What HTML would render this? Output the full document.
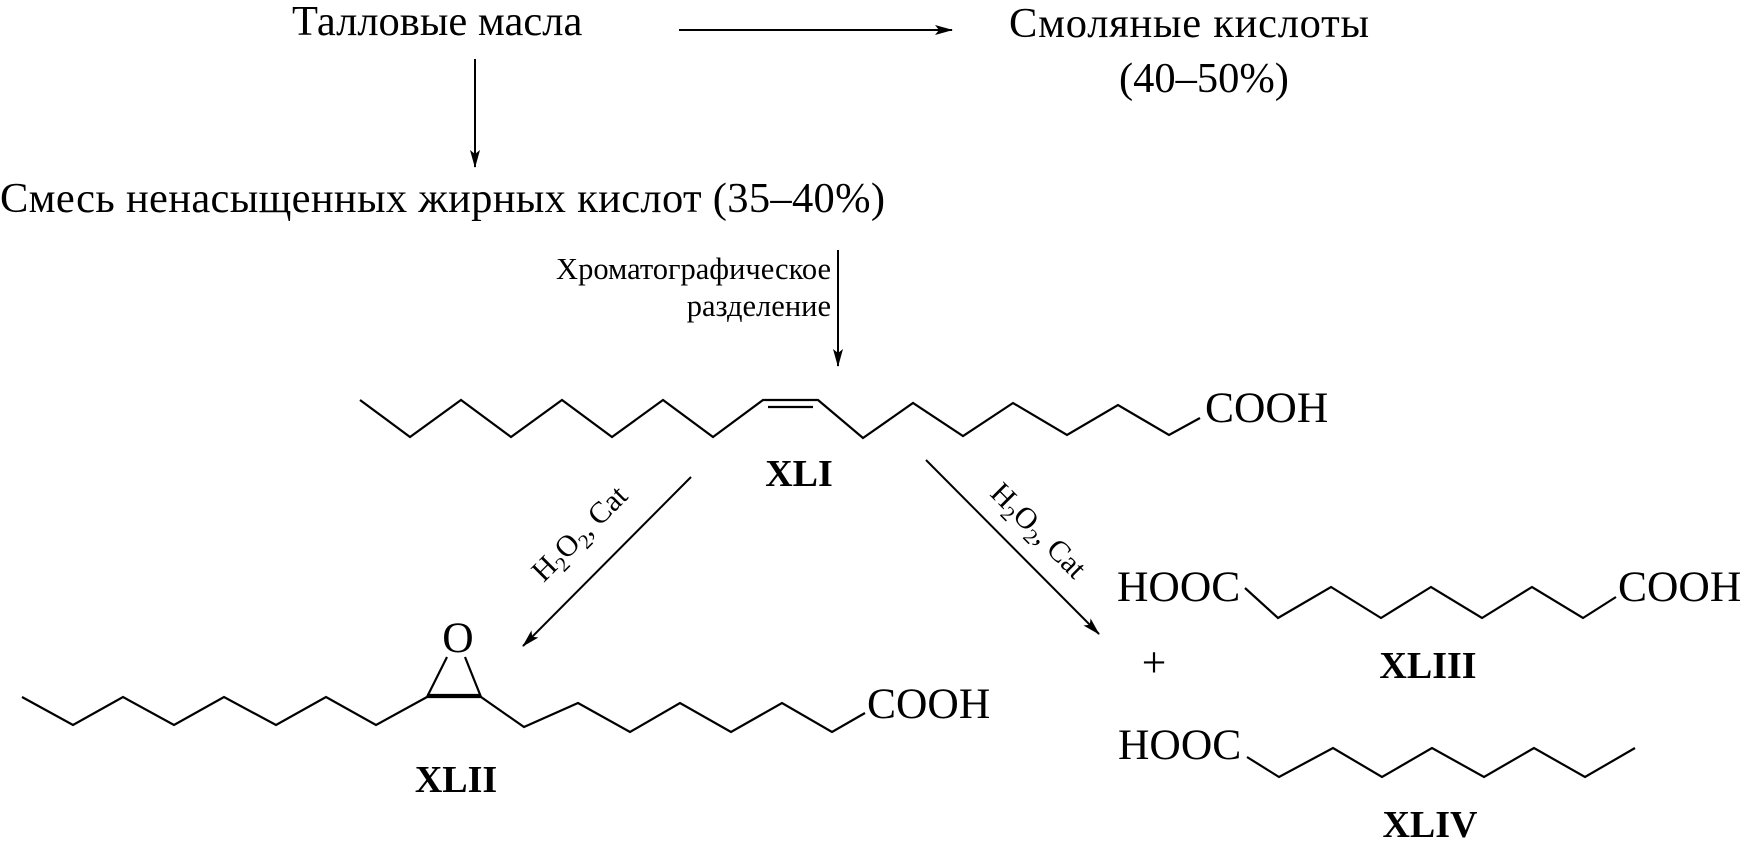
<!DOCTYPE html>
<html><head><meta charset="utf-8"><style>
html,body{margin:0;padding:0;background:#fff;}
svg{display:block;}
text{font-family:"Liberation Serif",serif;fill:#000;}
</style></head><body>
<svg width="1745" height="849" viewBox="0 0 1745 849" xmlns="http://www.w3.org/2000/svg">
<defs>
<marker id="ah" markerWidth="18" markerHeight="10" refX="17" refY="5" orient="auto" markerUnits="userSpaceOnUse">
<path d="M0,0 L18,5 L0,10 L4,5 Z" fill="#000"/>
</marker>
</defs>
<g font-size="42.5">
<text x="292" y="35">Талловые масла</text>
<text x="1009" y="37" textLength="360">Смоляные кислоты</text>
<text x="1119" y="92">(40–50%)</text>
<text x="0" y="212" textLength="885">Смесь ненасыщенных жирных кислот (35–40%)</text>
</g>
<g stroke="#000" stroke-width="2" fill="none">
<line x1="679" y1="30" x2="952" y2="30" marker-end="url(#ah)"/>
<line x1="475" y1="59" x2="475" y2="167" marker-end="url(#ah)"/>
<line x1="838" y1="250" x2="838" y2="366" marker-end="url(#ah)"/>
<line x1="691" y1="477" x2="523" y2="646" marker-end="url(#ah)"/>
<line x1="926" y1="460" x2="1099" y2="634" marker-end="url(#ah)"/>
</g>
<g font-size="30.5" text-anchor="end">
<text x="831" y="279">Хроматографическое</text>
<text x="831" y="316">разделение</text>
</g>
<text font-size="30" transform="translate(580,534) rotate(-45)" text-anchor="middle" dy="9">H<tspan font-size="21" dy="7">2</tspan><tspan dy="-7">O</tspan><tspan font-size="21" dy="7">2</tspan><tspan dy="-7">, Cat</tspan></text>
<text font-size="30" transform="translate(1038,531) rotate(45)" text-anchor="middle" dy="9">H<tspan font-size="21" dy="7">2</tspan><tspan dy="-7">O</tspan><tspan font-size="21" dy="7">2</tspan><tspan dy="-7">, Cat</tspan></text>
<g stroke="#000" stroke-width="2.2" fill="none" stroke-linejoin="miter">
<polyline points="360,400 410,437 461,400 511,437 562,400 612,437 663,400 713,437 763,400 818,400 863,438 913,403 963,436 1013,403 1067,435 1118,405 1169,435 1200,418"/>
<line x1="768" y1="407" x2="813" y2="407"/>
<polyline points="22,697 73,725 123,697 174,725 224,697 276,725 326,697 376,725 427,697 481,697 524,727 578,703 630,732 680,703 731,732 782,703 832,732 865,713"/>
<line x1="427" y1="695" x2="481" y2="695"/>
<line x1="427" y1="697" x2="447" y2="657"/>
<line x1="481" y1="697" x2="465" y2="657"/>
<polyline points="1245,588 1278,618 1331,587 1381,618 1431,587 1482,618 1532,587 1583,618 1616,597"/>
<polyline points="1247,757 1279,777 1333,748 1382,777 1432,748 1484,777 1534,748 1585,777 1635,748"/>
</g>
<g font-size="43.5">
<text x="1205" y="422">COOH</text>
<text x="867" y="718">COOH</text>
<text x="458" y="652" text-anchor="middle">O</text>
<text x="1117" y="601">HOOC</text>
<text x="1618" y="601">COOH</text>
<text x="1118" y="759">HOOC</text>
<text x="1154" y="677" text-anchor="middle">+</text>
</g>
<g font-size="38" font-weight="bold" text-anchor="middle">
<text x="799" y="486">XLI</text>
<text x="456" y="792">XLII</text>
<text x="1428" y="678">XLIII</text>
<text x="1430" y="837">XLIV</text>
</g>
</svg>
</body></html>
